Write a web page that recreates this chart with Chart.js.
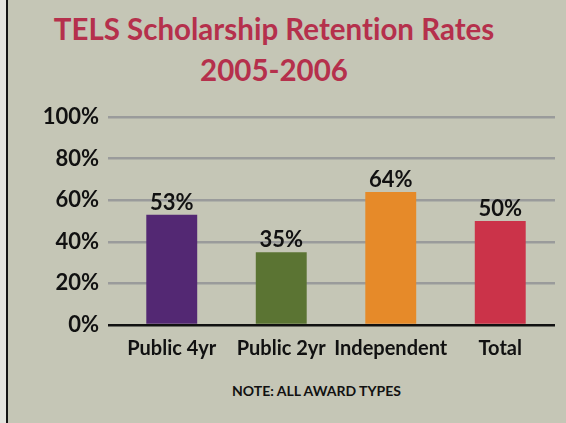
<!DOCTYPE html>
<html>
<head>
<meta charset="utf-8">
<script src="https://cdn.jsdelivr.net/npm/chart.js@4"></script>
<style>
  html, body { margin: 0; padding: 0; width: 566px; height: 423px; overflow: hidden; background: #e4e4de; }
  #panel { position: absolute; left: 6px; top: 0; width: 560px; height: 423px; background: #c5c6b6; border-left: 2px solid #141414; box-sizing: border-box; }
  #title { position: absolute; left: 0; width: 548px; top: 8px; text-align: center; color: #b5304c; font: bold 29.5px Lato, "Open Sans", sans-serif; line-height: 41px; font-variant-ligatures: none; font-feature-settings: "liga" 0, "clig" 0; }
  #note { position: absolute; left: 0; width: 633px; top: 382px; text-align: center; color: #111; font: bold 14px Lato, "Open Sans", sans-serif; }
  #wrap { position: absolute; left: 0; top: 0; width: 566px; height: 423px; }
</style>
</head>
<body>
<div id="panel"></div>
<div id="title">TELS Scholarship Retention Rates<br>2005-2006</div>
<div id="note">NOTE: ALL AWARD TYPES</div>
<div id="wrap"><canvas id="c" width="566" height="423"></canvas></div>
<script>
const categories = ["Public 4yr", "Public 2yr", "Independent", "Total"];
const retentionRates = [53, 35, 64, 50];
const barColors = ["#532873", "#5b7433", "#e68a29", "#cb3349"];
const yTicks = [0, 20, 40, 60, 80, 100];

const FONT = 'Lato, "Open Sans", sans-serif';

const valueLabels = {
  id: 'valueLabels',
  afterDatasetsDraw(chart) {
    const ctx = chart.ctx;
    const meta = chart.getDatasetMeta(0);
    ctx.save();
    ctx.font = 'bold 22px ' + FONT;
    ctx.fillStyle = '#111';
    ctx.textAlign = 'center';
    ctx.textBaseline = 'alphabetic';
    meta.data.forEach((bar, i) => {
      ctx.fillText(retentionRates[i] + '%', bar.x, bar.y - 5);
    });
    ctx.restore();
  }
};

new Chart(document.getElementById('c'), {
  type: 'bar',
  data: {
    labels: categories,
    datasets: [{
      data: retentionRates,
      backgroundColor: barColors,
      borderWidth: 0,
      barPercentage: 0.93,
      categoryPercentage: 0.5
    }]
  },
  options: {
    responsive: false,
    animation: false,
    layout: { padding: { left: 8, right: 11, top: 117, bottom: 0 } },
    plugins: { legend: { display: false }, tooltip: { enabled: false } },
    scales: {
      x: {
        grid: { display: false },
        border: { display: false },
        ticks: {
          color: '#111',
          font: { family: FONT, weight: 'bold', size: 20 },
          padding: 4,
          autoSkip: false,
          maxRotation: 0,
          minRotation: 0
        },
        afterFit(s) { s.height = 98; }
      },
      y: {
        min: 0, max: 100,
        afterBuildTicks(s) { s.ticks = yTicks.map(v => ({ value: v })); },
        grid: {
          color: c => c.tick && c.tick.value === 0 ? '#111' : '#9a9b9b',
          tickColor: c => c.tick && c.tick.value === 0 ? '#111' : '#9a9b9b',
          lineWidth: 2.5,
          tickWidth: 2.5,
          drawTicks: true,
          tickLength: 9
        },
        border: { display: false },
        ticks: {
          color: '#111',
          font: { family: FONT, weight: 'bold', size: 22 },
          padding: 9,
          callback: v => v + '%'
        },
        afterFit(s) { s.width = 109; }
      }
    }
  },
  plugins: [valueLabels]
});
</script>
</body>
</html>
